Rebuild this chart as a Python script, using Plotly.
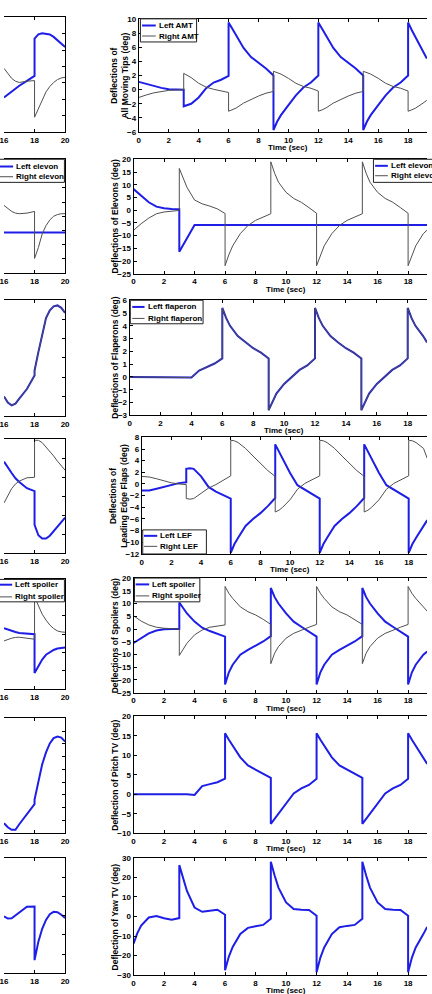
import plotly.graph_objects as go

W, H = 432, 994
FONT = "Liberation Sans, Arial, sans-serif"
BLUE = "#1e1ee6"
GRAY = "#505050"

# ---------------- data: right column (0-20 s, visible to ~19.25 s) ----------------
T_R = [0, 0.25, 0.5, 1, 1.5, 2, 2.5, 3,
       3, 3.25, 3.5, 4, 4.5, 5, 5.5, 6,
       6, 6.25, 6.5, 7, 7.5, 8, 8.5, 9,
       9, 9.25, 9.5, 10, 10.5, 11, 11.5, 12,
       12, 12.25, 12.5, 13, 13.5, 14, 14.5, 15,
       15, 15.25, 15.5, 16, 16.5, 17, 17.5, 18,
       18, 18.25, 18.5, 19, 19.25]

AMT_LEFT = [1.1, 0.95, 0.8, 0.5, 0.25, 0.05, 0.0, 0.0,
            -2.35, -2.2, -2.0, -1.1, 0.2, 1.0, 1.4, 1.95,
            9.5, 8.6, 7.7, 5.9, 4.6, 3.8, 3.0, 2.0,
            -5.7, -4.5, -3.6, -2.2, -0.8, 0.3, 1.0, 2.0,
            9.5, 8.6, 7.7, 5.9, 4.6, 3.8, 3.0, 2.0,
            -5.7, -4.5, -3.6, -2.2, -0.8, 0.3, 1.0, 2.0,
            9.5, 8.4, 7.4, 5.3, 4.4]
AMT_RIGHT = [-1.1, -0.9, -0.75, -0.45, -0.25, -0.1, -0.05, 0.0,
             2.3, 2.0, 1.7, 0.9, 0.35, 0.05, -0.2, -0.4,
             -3.05, -2.85, -2.6, -1.9, -1.35, -0.9, -0.5, -0.25,
             2.6, 2.4, 2.2, 1.6, 0.9, 0.45, 0.2, -0.2,
             -3.05, -2.85, -2.6, -1.9, -1.35, -0.9, -0.5, -0.25,
             2.6, 2.4, 2.2, 1.6, 0.9, 0.45, 0.2, -0.2,
             -3.05, -2.85, -2.6, -1.9, -1.5]
ELEVON_LEFT = [8.3, 7.0, 5.7, 3.1, 1.4, 0.8, 0.5, 0.4,
               -16.3, -13.7, -11.1, -5.8, -5.8, -5.8, -5.8, -5.8,
               -5.8, -5.8, -5.8, -5.8, -5.8, -5.8, -5.8, -5.8,
               -5.8, -5.8, -5.8, -5.8, -5.8, -5.8, -5.8, -5.8,
               -5.8, -5.8, -5.8, -5.8, -5.8, -5.8, -5.8, -5.8,
               -5.8, -5.8, -5.8, -5.8, -5.8, -5.8, -5.8, -5.8,
               -5.8, -5.8, -5.8, -5.8, -5.8]
ELEVON_RIGHT = [-7.9, -6.5, -5.3, -3.1, -1.4, -0.7, -0.3, -0.1,
                16.4, 12.5, 9.0, 4.0, 2.5, 1.6, 0.5, -1.3,
                -21.8, -17.5, -14.0, -9.2, -6.0, -4.0, -2.6, -1.4,
                19.0, 14.5, 11.0, 7.0, 4.6, 3.1, 1.0, -1.2,
                -21.8, -17.5, -14.0, -9.2, -6.0, -4.0, -2.6, -1.4,
                19.0, 14.5, 11.0, 7.0, 4.6, 3.1, 1.0, -1.2,
                -21.8, -17.5, -14.0, -9.2, -7.8]
FLAP_LEFT = [0, 0, 0, 0, 0, 0, 0, 0,
             0, 0, 0, -0.05, 0.5, 0.8, 1.05, 1.45,
             5.4, 4.6, 4.0, 3.2, 2.7, 2.25, 1.9, 1.45,
             -2.6, -1.9, -1.3, -0.55, 0.0, 0.55, 0.9, 1.45,
             5.4, 4.6, 4.0, 3.2, 2.7, 2.25, 1.9, 1.45,
             -2.6, -1.9, -1.3, -0.55, 0.0, 0.55, 0.9, 1.45,
             5.4, 4.6, 4.0, 3.2, 2.7]
FLAP_RIGHT = [0, 0, 0, 0, 0, 0, 0, 0,
              0, 0, 0, -0.05, 0.5, 0.8, 1.05, 1.45,
              5.4, 4.6, 4.0, 3.2, 2.7, 2.25, 1.9, 1.45,
              -2.6, -1.9, -1.3, -0.55, 0.0, 0.55, 0.9, 1.45,
              5.4, 4.6, 4.0, 3.2, 2.7, 2.25, 1.9, 1.45,
              -2.6, -1.9, -1.3, -0.55, 0.0, 0.55, 0.9, 1.45,
              5.4, 4.6, 4.0, 3.2, 2.7]
LEF_LEFT = [-1.1, -1.15, -1.1, -0.8, -0.45, -0.1, 0.15, 0.3,
            2.6, 2.7, 2.6, 1.3, -0.5, -1.3, -1.9, -2.5,
            -11.8, -10.3, -9.2, -7.2, -6.0, -5.0, -3.8, -2.4,
            6.8, 5.6, 4.3, 1.9, -0.2, -1.0, -1.8, -2.5,
            -11.8, -10.3, -9.2, -7.2, -6.0, -5.0, -3.8, -2.4,
            6.8, 5.6, 4.3, 1.9, -0.2, -1.0, -1.8, -2.5,
            -11.8, -10.3, -9.2, -7.2, -6.2]
LEF_RIGHT = [1.3, 1.3, 1.2, 0.9, 0.5, 0.2, 0.0, -0.1,
             -2.5, -2.6, -2.5, -1.6, -0.7, -0.1, 0.6, 1.4,
             7.5, 7.4, 7.1, 6.1, 4.8, 3.5, 2.3, 1.3,
             -4.8, -4.5, -4.0, -2.7, -0.9, 0.1, 0.8, 1.4,
             7.5, 7.4, 7.1, 6.1, 4.8, 3.5, 2.3, 1.3,
             -4.8, -4.5, -4.0, -2.7, -0.9, 0.1, 0.8, 1.4,
             7.5, 7.4, 7.1, 6.1, 4.4]
SPOIL_LEFT = [-5.5, -4.5, -3.6, -1.7, -0.6, -0.1, 0.0, 0.0,
              10.4, 8.0, 6.1, 2.9, 0.5, -0.8, -1.9, -3.0,
              -21.8, -17.0, -14.0, -10.1, -8.2, -6.5, -4.9, -2.8,
              16.1, 12.5, 10.0, 6.1, 2.9, 0.9, -1.0, -3.0,
              -21.8, -17.0, -14.0, -10.1, -8.2, -6.5, -4.9, -2.8,
              16.1, 12.5, 10.0, 6.1, 2.9, 0.9, -1.0, -3.0,
              -21.8, -17.0, -14.0, -10.1, -8.8]
SPOIL_RIGHT = [5.2, 4.1, 3.1, 1.6, 0.7, 0.3, 0.1, 0.0,
               -10.4, -7.8, -5.6, -2.3, -0.4, 0.7, 1.2, 1.6,
               16.7, 14.0, 12.0, 8.7, 6.8, 5.5, 3.8, 1.8,
               -13.6, -9.5, -6.9, -3.6, -1.7, -0.4, 0.7, 1.8,
               16.7, 14.0, 12.0, 8.7, 6.8, 5.5, 3.8, 1.8,
               -13.6, -9.5, -6.9, -3.6, -1.7, -0.4, 0.7, 1.8,
               16.7, 14.0, 12.0, 8.7, 7.0]
PITCH_TV = [0, 0, 0, 0, 0, 0, 0, 0,
            0, 0, 0, -0.2, 2.1, 2.6, 3.1, 4.0,
            15.7, 14.0, 12.5, 9.5, 7.4, 6.3, 5.2, 4.2,
            -7.6, -6.3, -4.9, -2.2, 0.2, 1.5, 2.4, 4.0,
            15.7, 14.0, 12.5, 9.5, 7.4, 6.3, 5.2, 4.2,
            -7.6, -6.3, -4.9, -2.2, 0.2, 1.5, 2.4, 4.0,
            15.7, 14.0, 12.5, 9.5, 7.8]
YAW_TV = [-13.9, -8.5, -4.6, -0.5, 0.3, -0.9, -1.6, -0.8,
          26.3, 20.0, 13.1, 4.6, 2.4, 3.0, 3.5, 0.9,
          -27.5, -20.5, -15.6, -8.9, -5.8, -5.0, -4.3, -1.1,
          28.0, 21.0, 14.8, 7.2, 3.8, 3.5, 3.3, 0.4,
          -28.5, -21.0, -15.8, -9.0, -5.5, -4.8, -4.3, -1.1,
          28.0, 21.0, 14.8, 7.2, 3.8, 3.5, 3.3, 0.4,
          -28.5, -21.0, -15.8, -9.0, -5.3]

# ---------------- data: left column (only 16-20 s visible) ----------------
T_L = [16, 16.25, 16.5, 16.75, 17, 17.5, 18, 18, 18.25, 18.5, 18.75, 19, 19.25, 19.5, 19.75, 20]
L_AMT_LEFT = [-1.78, -1.4, -1.0, -0.65, -0.35, 0.25, 0.84, 5.39, 5.9, 6.05, 6.0, 5.9, 5.6, 5.2, 4.8, 4.38]
L_AMT_RIGHT = [1.77, 1.1, 0.55, 0.2, 0.05, 0.2, 0.28, -4.18, -3.2, -2.15, -1.1, -0.44, 0.05, 0.4, 0.6, 0.68]
L_ELEVON_LEFT = [-10.7] * 16
L_ELEVON_RIGHT = [-1.2, -2.2, -3.3, -3.9, -4.1, -3.9, -3.3, -19.8, -16.0, -11.2, -8.3, -6.3, -5.0, -4.4, -4.1, -4.1]
L_FLAP_LEFT = [-1.96, -2.6, -2.88, -2.7, -2.2, -1.2, 0.18, 0.69, 2.6, 4.5, 6.1, 6.9, 7.3, 7.4, 7.15, 6.64]
L_FLAP_RIGHT = [-1.96, -2.6, -2.88, -2.7, -2.2, -1.2, 0.18, 0.69, 2.6, 4.5, 6.1, 6.9, 7.3, 7.4, 7.15, 6.64]
L_LEF_LEFT = [7.3, 6.0, 4.9, 3.8, 3.0, 1.7, 1.1, -6.0, -8.2, -8.9, -8.9, -8.3, -7.4, -6.3, -5.4, -4.5]
L_LEF_RIGHT = [-1.4, 0.2, 1.6, 2.6, 3.2, 3.9, 4.0, 11.8, 11.8, 11.3, 10.4, 9.5, 8.5, 7.4, 6.4, 5.5]
L_SPOIL_LEFT = [1.57, 1.2, 0.85, 0.55, 0.31, 0.13, -0.04, -10.52, -8.7, -6.9, -5.6, -4.88, -4.3, -3.9, -3.7, -3.63]
L_SPOIL_RIGHT = [-1.84, -1.45, -1.12, -0.9, -0.85, -1.12, -1.39, 10.07, 7.5, 5.4, 3.8, 2.46, 1.5, 0.85, 0.6, 0.49]
L_PITCH_TV = [-11.1, -12.7, -13.7, -13.7, -11.5, -7.5, -3.6, -1.8, 5.5, 12.0, 16.7, 20.2, 22.3, 22.9, 22.5, 20.9]
L_YAW_TV = [-0.3, -1.5, -1.4, 0.0, 1.7, 4.6, 4.8, -23.1, -13.5, -6.8, -2.2, 0.8, 2.0, 1.8, 0.5, -1.2]

X_TICKS_R = [0, 2, 4, 6, 8, 10, 12, 14, 16, 18, 20]
X_TICKS_L = [16, 18, 20]

# ---------------- layout helpers ----------------
def px(x):
    return x / W


def py(y):
    return 1 - y / H


tick_font = dict(family=FONT, size=8, color="black", weight="bold")
ann_font = dict(family=FONT, size=8, color="black", weight="bold")
title_font = dict(family=FONT, size=8.5, color="black", weight="bold")

fig = go.Figure()
layout = dict(width=W, height=H, margin=dict(l=0, r=0, t=0, b=0),
              paper_bgcolor="white", plot_bgcolor="white", showlegend=False)
shapes, annotations = [], []

# right column: (x0 px, x18 px, top px, bottom px, y range, dtick, ytitle, title x px, series)
right = [
    (137.7, 412.7, 15.0, 129.3, [-6, 10], 2, "Deflections of<br>All Moving Tips (deg)", 117.5,
     [("Left AMT", AMT_LEFT, BLUE), ("Right AMT", AMT_RIGHT, GRAY)]),
    (132.3, 412.7, 156.7, 272.3, [-25, 20], 5, "Deflections of Elevons (deg)", 113.3,
     [("Left elevon", ELEVON_LEFT, BLUE), ("Right elevon", ELEVON_RIGHT, GRAY)]),
    (128.3, 412.3, 299.0, 415.0, [-3, 6], 1, "Deflections of Flaperons (deg)", 113.3,
     [("Left flaperon", FLAP_LEFT, BLUE), ("Right flaperon", FLAP_RIGHT, GRAY)]),
    (140.7, 413.3, 437.3, 555.0, [-12, 8], 2, "Deflections of<br>Leading Edge Flaps (deg)", 117.5,
     [("Left LEF", LEF_LEFT, BLUE), ("Right LEF", LEF_RIGHT, GRAY)]),
    (132.3, 412.7, 579.3, 695.0, [-25, 20], 5, "Deflections of Spoilers (deg)", 113.3,
     [("Left spoiler", SPOIL_LEFT, BLUE), ("Right spoiler", SPOIL_RIGHT, GRAY)]),
    (132.3, 412.7, 719.0, 836.7, [-10, 20], 5, "Deflection of Pitch TV (deg)", 113.3,
     [("Pitch TV", PITCH_TV, BLUE)]),
    (132.3, 412.7, 861.7, 980.0, [-30, 30], 10, "Deflection of Yaw TV (deg)", 113.3,
     [("Yaw TV", YAW_TV, BLUE)]),
]

left = [
    (13.3, 129.3, [-6, 8], 2, [("Left AMT", L_AMT_LEFT, BLUE), ("Right AMT", L_AMT_RIGHT, GRAY)]),
    (156.7, 271.7, [-25, 15], 5, [("Left elevon", L_ELEVON_LEFT, BLUE), ("Right elevon", L_ELEVON_RIGHT, GRAY)]),
    (298.3, 416.0, [-4, 8], 2, [("Left flaperon", L_FLAP_LEFT, BLUE), ("Right flaperon", L_FLAP_RIGHT, GRAY)]),
    (439.3, 554.3, [-12, 12], 4, [("Left LEF", L_LEF_LEFT, BLUE), ("Right LEF", L_LEF_RIGHT, GRAY)]),
    (580.0, 691.7, [-15, 15], 5, [("Left spoiler", L_SPOIL_LEFT, BLUE), ("Right spoiler", L_SPOIL_RIGHT, GRAY)]),
    (721.0, 836.7, [-15, 30], 5, [("Pitch TV", L_PITCH_TV, BLUE)]),
    (861.7, 978.3, [-30, 30], 10, [("Yaw TV", L_YAW_TV, BLUE)]),
]


def base_axis():
    return dict(ticks="inside", ticklen=3, tickwidth=1, tickcolor="black",
                showline=True, linecolor="black", linewidth=1,
                showgrid=False, zeroline=False, tickfont=tick_font, fixedrange=True,
                ticklabeloverflow="allow")


def add_series(series, xs, xa, ya):
    for name, ys, col in series:
        fig.add_trace(go.Scatter(x=xs, y=ys, mode="lines", name=name,
                                 line=dict(color=col, width=2 if col == BLUE else 1),
                                 xaxis=xa, yaxis=ya, hoverinfo="skip"))


n = 0
for (x0, x18, top, bot, yr, dt, ytitle, tx, series) in right:
    n += 1
    xa, ya = f"x{n}", f"y{n}"
    scale = (x18 - x0) / 18.0
    xend = (W - x0) / scale
    ax = base_axis()
    ax.update(domain=[px(x0), 1.0], range=[0, xend], tickvals=X_TICKS_R,
              mirror="ticks", anchor=ya)
    ay = base_axis()
    ay.update(domain=[py(bot), py(top)], range=yr, dtick=dt, tick0=yr[0],
              mirror=False, anchor=xa, side="left")
    layout["xaxis" if n == 1 else f"xaxis{n}"] = ax
    layout["yaxis" if n == 1 else f"yaxis{n}"] = ay
    add_series(series, T_R, xa, ya)
    annotations.append(dict(text=ytitle, x=px(tx), y=py((top + bot) / 2), xref="paper", yref="paper",
                            textangle=-90, showarrow=False, xanchor="center", yanchor="middle",
                            font=title_font))
    annotations.append(dict(text="Time (sec)", x=10, xref=xa, y=py(bot + 15.5), yref="paper",
                            showarrow=False, xanchor="center", yanchor="middle", font=ann_font))

for (top, bot, yr, dt, series) in left:
    n += 1
    xa, ya = f"x{n}", f"y{n}"
    ax = base_axis()
    ax.update(domain=[0.0, px(62.4)], range=[16, 20], tickvals=X_TICKS_L,
              mirror="ticks", anchor=ya)
    ay = base_axis()
    ay.update(domain=[py(bot), py(top)], range=yr, dtick=dt, tick0=yr[0],
              side="right", showticklabels=False, mirror=False, anchor=xa)
    layout[f"xaxis{n}"] = ax
    layout[f"yaxis{n}"] = ay
    add_series(series, T_L, xa, ya)

# ---------------- legends drawn as boxes (pixel layout) ----------------
# (box x0, y0, x1, y1, row1 y, row2 y, line x0, line x1, text x, labels)
legends = [
    (139.3, 15.0, 196.7, 38.3, 21.7, 32.3, 141.0, 155.0, 156.0, ("Left AMT", "Right AMT")),
    (377.3, 156.7, 460.0, 180.0, 163.3, 173.3, 379.0, 392.0, 393.0, ("Left elevon", "Right elevon")),
    (129.0, 299.0, 203.3, 322.7, 305.7, 317.3, 131.0, 143.5, 145.0, ("Left flaperon", "Right flaperon")),
    (141.7, 530.7, 206.7, 555.0, 536.7, 547.3, 143.0, 156.5, 157.7, ("Left LEF", "Right LEF")),
    (133.3, 579.3, 200.0, 603.3, 585.7, 597.3, 134.5, 148.3, 149.3, ("Left spoiler", "Right spoiler")),
    (-6.0, 156.7, 61.7, 180.0, 164.0, 174.3, -6.0, 9.3, 10.0, ("Left elevon", "Right elevon")),
    (-6.0, 580.7, 61.7, 603.3, 586.0, 598.3, -6.0, 8.3, 9.3, ("Left spoiler", "Right spoiler")),
]
for (bx0, by0, bx1, by1, r1, r2, lx0, lx1, tx, labels) in legends:
    shapes.append(dict(type="rect", xref="paper", yref="paper", x0=px(bx0), x1=px(bx1),
                       y0=py(by1), y1=py(by0), fillcolor="white",
                       line=dict(color="#222222", width=1), layer="above"))
    for ry, col, wdt, lab in ((r1, BLUE, 2, labels[0]), (r2, GRAY, 1, labels[1])):
        shapes.append(dict(type="line", xref="paper", yref="paper", x0=px(lx0), x1=px(lx1),
                           y0=py(ry), y1=py(ry), line=dict(color=col, width=wdt), layer="above"))
        annotations.append(dict(text=lab, x=px(tx), y=py(ry), xref="paper", yref="paper",
                                showarrow=False, xanchor="left", yanchor="middle", font=ann_font))

layout["shapes"] = shapes
layout["annotations"] = annotations
fig.update_layout(**layout)
fig.write_html("out.html", config={"displayModeBar": False})
